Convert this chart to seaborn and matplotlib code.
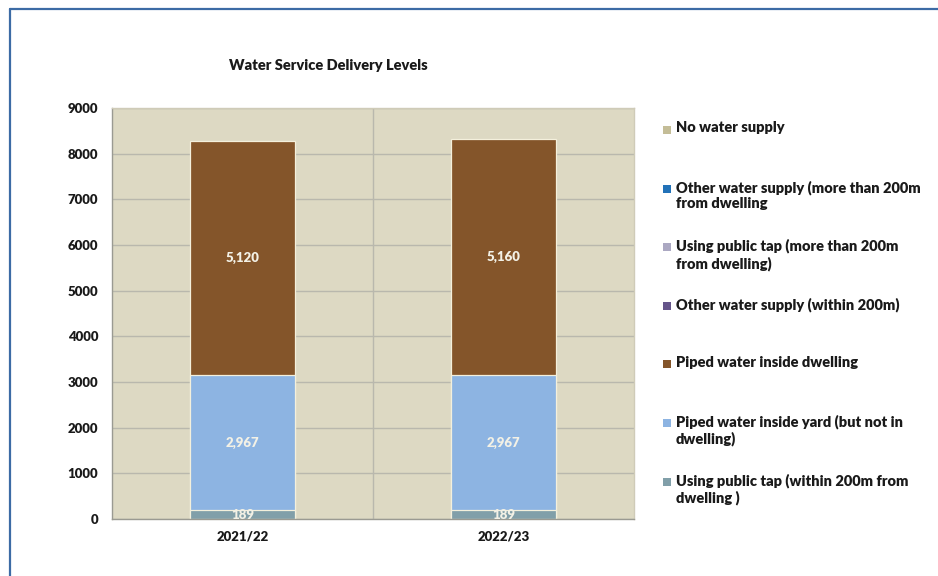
import numpy as np
import pandas as pd
import matplotlib
matplotlib.use("Agg")
import matplotlib.pyplot as plt
from matplotlib.patches import Rectangle
from matplotlib.lines import Line2D
import seaborn as sns

# ---- data ----
years = ["2021/22", "2022/23"]
# stacking order from bottom to top
series_names = [
    "Using public tap (within 200m from\ndwelling )",
    "Piped water inside yard (but not in\ndwelling)",
    "Piped water inside dwelling",
    "Other water supply (within 200m)",
    "Using public tap (more than 200m\nfrom dwelling)",
    "Other water supply (more than 200m\nfrom dwelling",
    "No water supply",
]
public_tap_within = [189, 189]
piped_yard = [2967, 2967]
piped_dwelling = [5120, 5160]
other_within = [0, 0]
public_tap_beyond = [0, 0]
other_beyond = [0, 0]
no_supply = [0, 0]
series_values = [public_tap_within, piped_yard, piped_dwelling, other_within,
                 public_tap_beyond, other_beyond, no_supply]
series_colors = ["#819FA9", "#8DB4E2", "#84552A", "#65558A",
                 "#ABA8C2", "#2272B8", "#C4BD97"]
y_ticks = [0, 1000, 2000, 3000, 4000, 5000, 6000, 7000, 8000, 9000]

# ---- figure ----
sns.set_style("white")
plt.rcParams["font.family"] = ["Lato", "DejaVu Sans"]
W, H = 938, 576
fig = plt.figure(figsize=(W / 100, H / 100), dpi=100)
fig.patch.set_facecolor("white")

ax_l, ax_r, ax_t, ax_b = 112, 634, 108, 519
ax = fig.add_axes([ax_l / W, 1 - ax_b / H, (ax_r - ax_l) / W, (ax_b - ax_t) / H])
ax.set_facecolor("#DDD9C3")

# gridlines
ax.set_axisbelow(True)
ax.yaxis.grid(True, color="#B9B8AD", linewidth=1.0)

vals = np.array(series_values, dtype=float)
cum = np.cumsum(vals, axis=0)
# draw from top layer down so lower segments overlay
for i in range(len(series_names) - 1, -1, -1):
    if vals[i].sum() == 0:
        continue
    df = pd.DataFrame({"year": years, "value": cum[i]})
    sns.barplot(data=df, x="year", y="value", color=series_colors[i],
                width=0.4, edgecolor="#F4F0DC", linewidth=0.9,
                saturation=1, ax=ax, errorbar=None)

# data labels
for i in range(len(series_names)):
    for j in range(len(years)):
        v = vals[i, j]
        if v <= 0:
            continue
        yc = cum[i, j] - v / 2
        ax.text(j, yc, f"{int(v):,}", ha="center", va="center",
                fontsize=9.5, fontweight="heavy", color="#F3F1E6", clip_on=True)

ax.axvline(0.5, color="#B9B8AD", linewidth=1.0, zorder=0.5)
ax.set_xlim(-0.5, 1.5)
ax.set_ylim(0, 9000)
ax.set_yticks(y_ticks)
ax.set_yticklabels([str(t) for t in y_ticks])
ax.set_xlabel("")
ax.set_ylabel("")
ax.tick_params(axis="both", length=0, labelsize=9.5, colors="#1A1A1A")
ax.tick_params(axis="y", pad=10)
ax.tick_params(axis="x", pad=8)
for lab in ax.get_xticklabels() + ax.get_yticklabels():
    lab.set_fontweight("heavy")
for s in ["left", "bottom"]:
    ax.spines[s].set_color("#9A9A92")
    ax.spines[s].set_linewidth(1.0)
for s in ["top", "right"]:
    ax.spines[s].set_color("#CFCBB8")
    ax.spines[s].set_linewidth(1.0)

# title
fig.text(328 / W, 1 - 66 / H, "Water Service Delivery Levels", ha="center",
         va="center", fontsize=10.5, fontweight="heavy", color="#1A1A1A")

# legend (top entry is last series)
y0, step = 130, 58.6
for k, i in enumerate(range(len(series_names) - 1, -1, -1)):
    yc = y0 + k * step
    fig.patches.append(Rectangle((663 / W, 1 - (yc + 4) / H), 8 / W, 8 / H,
                                 transform=fig.transFigure, facecolor=series_colors[i],
                                 edgecolor="none"))
    fig.text(676 / W, 1 - (yc - 8.5) / H, series_names[i], ha="left", va="top",
             fontsize=10.5, fontweight="heavy", color="#1A1A1A", linespacing=1.22)

# outer blue frame (left and top)
fig.lines.append(Line2D([9.5 / W, 9.5 / W], [0, 1 - 8.5 / H], transform=fig.transFigure,
                        color="#3C6BA5", linewidth=1.6))
fig.lines.append(Line2D([9.5 / W, 1], [1 - 8.5 / H, 1 - 8.5 / H], transform=fig.transFigure,
                        color="#3C6BA5", linewidth=1.6))

fig.savefig("out.png", dpi=100, facecolor="white")
